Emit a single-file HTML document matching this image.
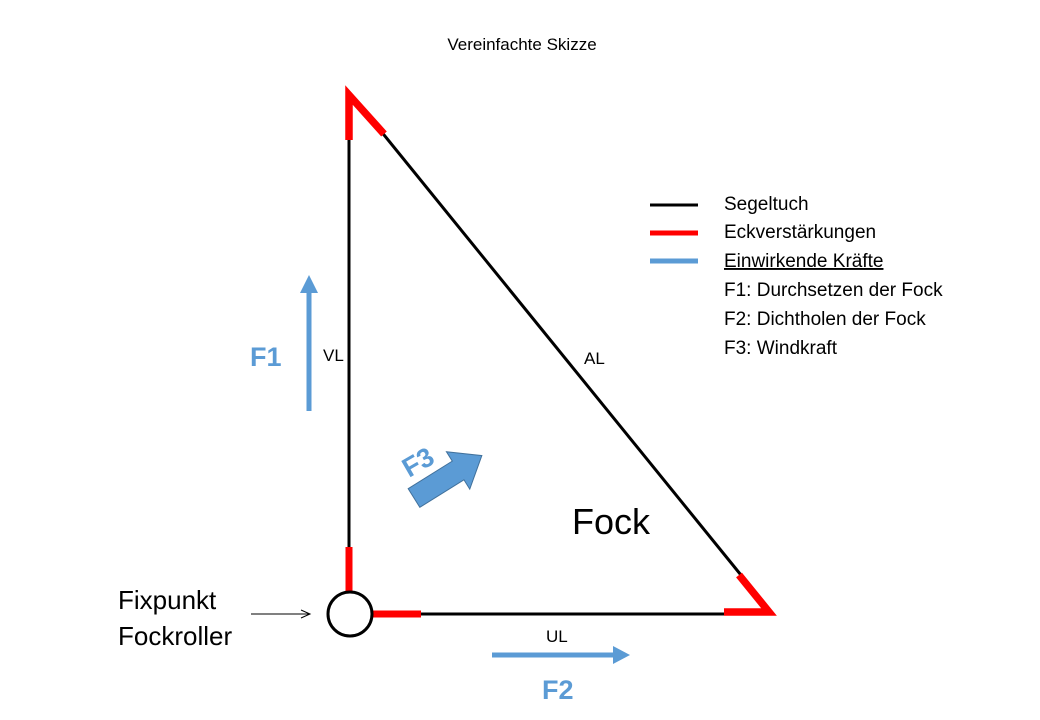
<!DOCTYPE html>
<html><head><meta charset="utf-8"><style>
html,body{margin:0;padding:0;background:#fff;}
svg{display:block;}
text{font-family:"Liberation Sans",sans-serif;}
</style></head><body>
<svg width="1040" height="720" viewBox="0 0 1040 720" xmlns="http://www.w3.org/2000/svg">
<text x="522" y="50" font-size="17" text-anchor="middle" fill="#000">Vereinfachte Skizze</text>
<line x1="349" y1="138" x2="349" y2="550" stroke="#000" stroke-width="3"/>
<line x1="380" y1="130" x2="745" y2="580" stroke="#000" stroke-width="3"/>
<line x1="418" y1="614" x2="728" y2="614" stroke="#000" stroke-width="3"/>
<polyline points="349,140 349,95 384,134" fill="none" stroke="#f00" stroke-width="7.5" stroke-linejoin="miter"/>
<polyline points="739,575 769,612 724,612" fill="none" stroke="#f00" stroke-width="7.5" stroke-linejoin="miter"/>
<line x1="349" y1="547" x2="349" y2="593" stroke="#f00" stroke-width="7"/>
<line x1="373" y1="614" x2="421" y2="614" stroke="#f00" stroke-width="7"/>
<circle cx="350" cy="614" r="22" fill="#fff" stroke="#000" stroke-width="3"/>
<line x1="251" y1="614" x2="309" y2="614" stroke="#000" stroke-width="1"/>
<polyline points="301,610 310,614 301,618" fill="none" stroke="#000" stroke-width="1"/>
<text x="118" y="609" font-size="26" fill="#000">Fixpunkt</text>
<text x="118" y="645" font-size="26" fill="#000">Fockroller</text>
<line x1="309" y1="411" x2="309" y2="292" stroke="#5b9bd5" stroke-width="5"/>
<polygon points="300,293 318,293 309,275" fill="#5b9bd5"/>
<text x="250" y="366" font-size="27" font-weight="bold" fill="#5b9bd5">F1</text>
<text x="323" y="361" font-size="17" fill="#000">VL</text>
<text x="584" y="364" font-size="17" fill="#000">AL</text>
<line x1="492" y1="655" x2="614" y2="655" stroke="#5b9bd5" stroke-width="5"/>
<polygon points="613,646 613,664 630,655" fill="#5b9bd5"/>
<text x="546" y="642" font-size="17" fill="#000">UL</text>
<text x="542" y="699" font-size="27" font-weight="bold" fill="#5b9bd5">F2</text>
<g transform="translate(414,498) rotate(-32)">
<polygon points="0,-11 52,-11 52,-22 80,0 52,22 52,11 0,11" fill="#5b9bd5" stroke="#41719c" stroke-width="1"/>
</g>
<text x="0" y="0" font-size="27" font-weight="bold" fill="#5b9bd5" transform="translate(409,478) rotate(-30)">F3</text>
<text x="572" y="534" font-size="36" fill="#000">Fock</text>
<line x1="650" y1="205" x2="698" y2="205" stroke="#000" stroke-width="3"/>
<line x1="650" y1="233" x2="698" y2="233" stroke="#f00" stroke-width="5"/>
<line x1="650" y1="261" x2="698" y2="261" stroke="#5b9bd5" stroke-width="5"/>
<g font-size="19" fill="#000">
<text x="724" y="210">Segeltuch</text>
<text x="724" y="238">Eckverstärkungen</text>
<text x="724" y="267" text-decoration="underline">Einwirkende Kräfte</text>
<text x="724" y="296">F1: Durchsetzen der Fock</text>
<text x="724" y="325">F2: Dichtholen der Fock</text>
<text x="724" y="354">F3: Windkraft</text>
</g>
</svg>
</body></html>
